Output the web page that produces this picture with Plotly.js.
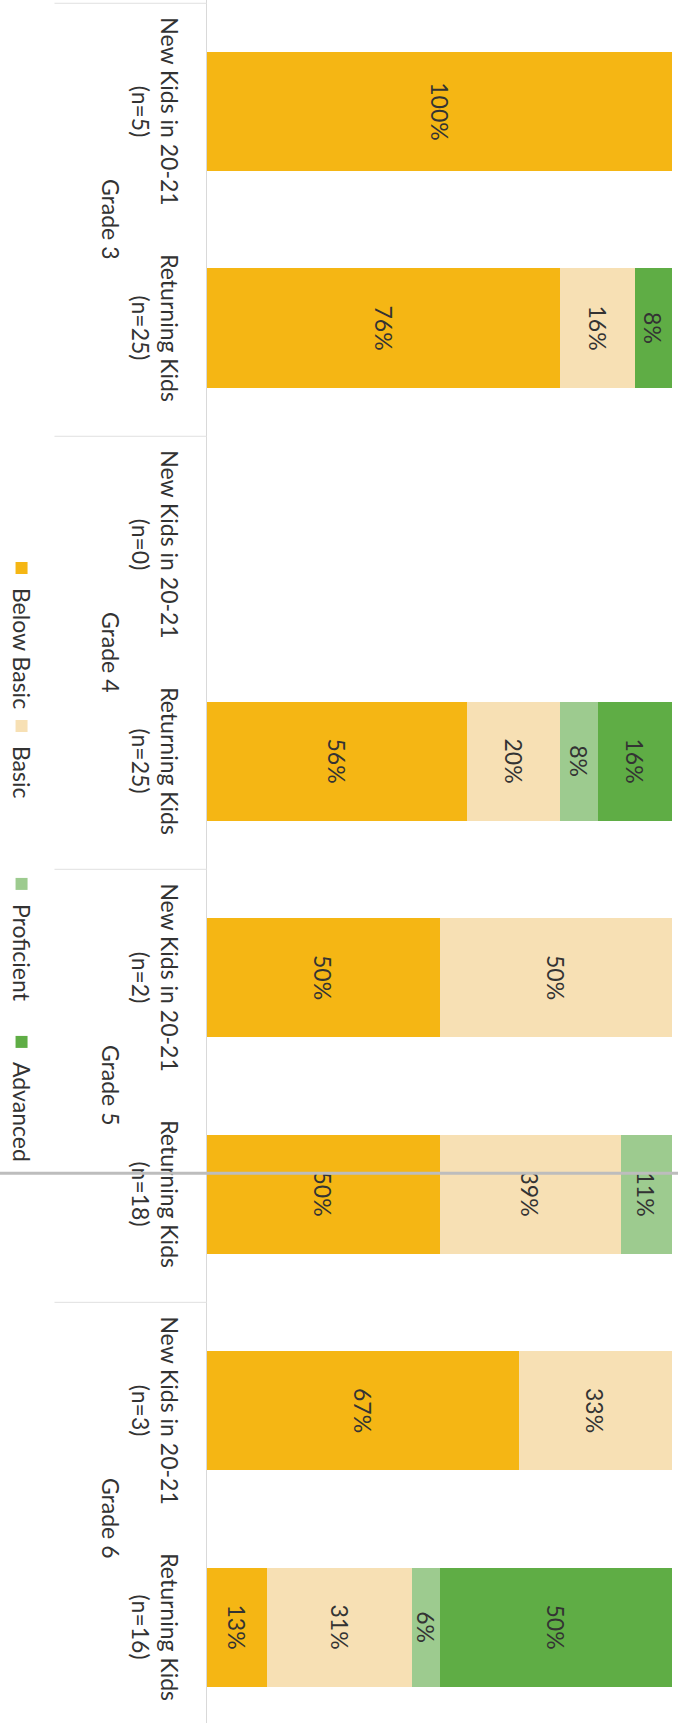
<!DOCTYPE html>
<html>
<head>
<meta charset="utf-8">
<script src="https://cdn.plot.ly/plotly-3.0.1.min.js"></script>
<style>
  html, body { margin: 0; padding: 0; overflow: hidden; background: #ffffff; width: 678px; height: 1723px; }
  /* The column chart is laid out landscape and turned a quarter turn clockwise */
  #chart { position: absolute; left: 0; top: 0; width: 1723px; height: 678px;
           transform-origin: 0 0; transform: translate(678px, 0) rotate(90deg); }
</style>
</head>
<body>
<div id="chart"></div>
<script>
// Category levels, in axis order
const grades  = ["Grade 3", "Grade 3", "Grade 4", "Grade 4", "Grade 5", "Grade 5", "Grade 6", "Grade 6"];
const cohorts = ["New Kids in 20-21", "Returning Kids", "New Kids in 20-21", "Returning Kids",
                 "New Kids in 20-21", "Returning Kids", "New Kids in 20-21", "Returning Kids"];
const counts  = [5, 25, 0, 25, 2, 18, 3, 16];

// Percent of students at each performance level
const belowBasic = [100, 76, null, 56, 50, 50, 67, 13];
const basic      = [null, 16, null, 20, 50, 39, 33, 31];
const proficient = [null, null, null, 8, null, 11, null, 6];
const advanced   = [null, 8, null, 16, null, null, null, 50];

const levelNames = ["Below Basic", "Basic", "Proficient", "Advanced"];
const levelColors = ["#F5B614", "#F7E0B4", "#9DCB8F", "#5FAD45"];
const seriesList = [belowBasic, basic, proficient, advanced];

// one unique key per column; the two-line tick text is shown instead
const keys = grades.map((g, i) => g + " | " + cohorts[i]);
const tickLabels = cohorts.map((c, i) => c + "<br>(n=" + counts[i] + ")");

const pct = v => (v == null ? "" : v + "%");

const traces = seriesList.map((vals, i) => ({
  type: "bar",
  name: levelNames[i],
  x: keys,
  y: vals,
  text: vals.map(pct),
  textposition: "inside",
  insidetextanchor: "middle",
  textangle: 0,
  constraintext: "none",
  textfont: { family: "Lato", size: 23, color: "#333333" },
  marker: { color: levelColors[i], line: { width: 0 } },
  hoverinfo: "skip"
}));

// grade headings centred under their columns, with rules between grades
const gradeNames = [...new Set(grades)];
const gradeAnnotations = gradeNames.map(g => {
  const idx = grades.map((v, i) => (v === g ? i : -1)).filter(i => i >= 0);
  const mid = (idx[0] + idx[idx.length - 1]) / 2;
  return {
    xref: "x", yref: "paper", x: mid, y: -0.206,
    text: g, showarrow: false, xanchor: "center", yanchor: "middle",
    font: { family: "Lato", size: 23, color: "#333333" }
  };
});
const gradeRules = [];
gradeNames.forEach(g => {
  const first = grades.indexOf(g);
  const last = grades.lastIndexOf(g);
  [first - 0.5, last + 0.5].forEach(b => {
    if (!gradeRules.some(s => s.x0 === b)) {
      gradeRules.push({ type: "line", xref: "x", yref: "paper", x0: b, x1: b, y0: 0, y1: -0.328,
                        line: { color: "#e0e0e0", width: 1 } });
    }
  });
});

const layout = {
  width: 1723,
  height: 678,
  margin: { l: 0, r: 0, t: 6, b: 206, pad: 0 },
  paper_bgcolor: "#ffffff",
  plot_bgcolor: "#ffffff",
  barmode: "stack",
  bargap: 0.45,
  font: { family: "Lato", size: 23, color: "#3a3a3a" },
  xaxis: {
    type: "category",
    categoryorder: "array",
    categoryarray: keys,
    tickmode: "array",
    tickvals: keys,
    ticktext: tickLabels,
    range: [-0.515, 7.443],
    showline: true,
    linecolor: "#d9d9d9",
    linewidth: 1,
    showgrid: false,
    ticks: "",
    ticklabelstandoff: 17,
    tickfont: { family: "Lato", size: 23, color: "#333333" },
    fixedrange: true
  },
  yaxis: { range: [0, 100], visible: false, fixedrange: true },
  showlegend: true,
  legend: {
    orientation: "h",
    traceorder: "normal",
    entrywidthmode: "pixels",
    entrywidth: 113,
    bgcolor: "rgba(0,0,0,0)",
    x: 0.318, xanchor: "left",
    y: -0.40, yanchor: "middle",
    font: { family: "Lato", size: 23, color: "#333333" }
  },
  annotations: gradeAnnotations,
  shapes: gradeRules.concat([
    // thin grey rule running across the page
    { type: "line", xref: "paper", yref: "paper", x0: 0.681, x1: 0.681, y0: -0.46, y1: 1.02,
      line: { color: "#bdbdbd", width: 3 } }
  ])
};

Plotly.newPlot("chart", traces, layout, { displayModeBar: false, staticPlot: true });
</script>
</body>
</html>
